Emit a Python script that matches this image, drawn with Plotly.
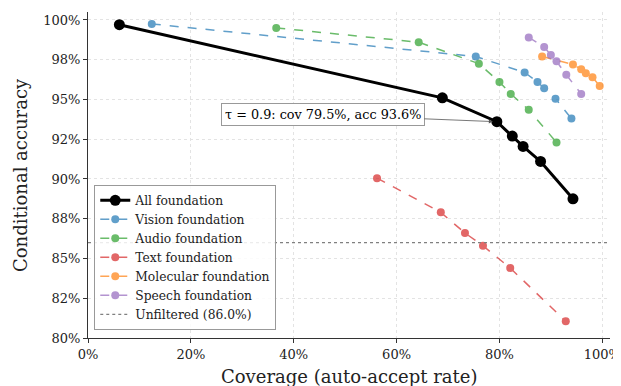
import plotly.graph_objects as go

# ---- data (percent) ----
all_cov = [6.1, 68.9, 79.5, 82.5, 84.6, 88.0, 94.3]
all_acc = [99.7, 95.1, 93.6, 92.7, 92.05, 91.1, 88.75]

vision_cov = [12.4, 75.4, 84.9, 87.4, 88.7, 90.9, 94.0]
vision_acc = [99.75, 97.7, 96.7, 96.1, 95.7, 95.05, 93.8]

audio_cov = [36.6, 64.3, 76.0, 80.0, 82.2, 85.7, 91.1]
audio_acc = [99.5, 98.6, 97.25, 96.1, 95.35, 94.35, 92.3]

text_cov = [56.2, 68.6, 73.3, 76.8, 82.1, 92.9]
text_acc = [90.05, 87.9, 86.6, 85.8, 84.4, 81.05]

molecular_cov = [88.3, 94.3, 95.9, 96.8, 98.1, 99.5]
molecular_acc = [97.7, 97.2, 96.9, 96.65, 96.4, 95.85]

speech_cov = [85.7, 88.7, 90.0, 91.1, 93.0, 95.9]
speech_acc = [98.9, 98.3, 97.8, 97.4, 96.55, 95.35]

unfiltered_acc = 86.0

x_tickvals = [0, 20, 40, 60, 80, 100]
x_ticktext = ["0%", "20%", "40%", "60%", "80%", "100%"]
y_tickvals = [80, 82.5, 85, 87.5, 90, 92.5, 95, 97.5, 100]
y_ticktext = ["80%", "82%", "85%", "88%", "90%", "92%", "95%", "98%", "100%"]

X_RANGE = [0, 101.5]
Y_RANGE = [80, 100.5]

annot_cov, annot_acc = 79.5, 93.6

FONT = "DejaVu Serif"

fig = go.Figure()

fig.add_trace(go.Scatter(
    x=all_cov, y=all_acc, mode="lines+markers", name="All foundation",
    line=dict(color="black", width=3), marker=dict(color="black", size=11),
))

series = [
    ("Vision foundation", vision_cov, vision_acc, "#1f77b4"),
    ("Audio foundation", audio_cov, audio_acc, "#2ca02c"),
    ("Text foundation", text_cov, text_acc, "#d62728"),
    ("Molecular foundation", molecular_cov, molecular_acc, "#ff7f0e"),
    ("Speech foundation", speech_cov, speech_acc, "#9467bd"),
]
for name, xs, ys, c in series:
    fig.add_trace(go.Scatter(
        x=xs, y=ys, mode="lines+markers", name=name, opacity=0.7,
        line=dict(color=c, width=1.5, dash="dash"),
        marker=dict(color=c, size=8),
    ))

fig.add_trace(go.Scatter(
    x=X_RANGE, y=[unfiltered_acc, unfiltered_acc], mode="lines",
    name="Unfiltered (86.0%)",
    line=dict(color="gray", width=1.3, dash="dot"),
))

fig.add_annotation(
    x=annot_cov, y=annot_acc, xref="x", yref="y",
    text="τ = 0.9: cov 79.5%, acc 93.6%",
    showarrow=True, ax=-174, ay=-7, axref="pixel", ayref="pixel",
    arrowhead=2, arrowsize=1, arrowwidth=0.8, arrowcolor="#555555",
    standoff=4,
    font=dict(family=FONT, size=12.8, color="black"),
    bgcolor="white", bordercolor="#999999", borderwidth=1, borderpad=3,
)

# axis titles as annotations for precise placement
fig.add_annotation(
    x=0.5, y=0, xref="paper", yref="paper", showarrow=False,
    text="Coverage (auto-accept rate)", yanchor="middle", yshift=-38,
    font=dict(family=FONT, size=18, color="#222222"),
)
fig.add_annotation(
    x=0, y=0.5, xref="paper", yref="paper", showarrow=False,
    text="Conditional accuracy", textangle=-90, xanchor="center", xshift=-68,
    font=dict(family=FONT, size=18, color="#222222"),
)

axis_common = dict(
    showline=True, linecolor="#333333", linewidth=1.2,
    ticks="outside", ticklen=4, tickcolor="#333333",
    showgrid=True, gridcolor="#e3e3e3", griddash="dot", gridwidth=1,
    zeroline=False, mirror=False, automargin=False,
    tickfont=dict(family=FONT, size=13, color="#222222"),
)

fig.update_xaxes(range=X_RANGE, tickvals=x_tickvals, ticktext=x_ticktext, **axis_common)
fig.update_yaxes(range=Y_RANGE, tickvals=y_tickvals, ticktext=y_ticktext, **axis_common)

# page body has an 8px default margin, so the figure is sized to fit the window
fig.update_layout(
    width=613, height=378,
    margin=dict(l=80, r=11, t=4, b=48),
    paper_bgcolor="white", plot_bgcolor="white",
    font=dict(family=FONT, color="#222222"),
    legend=dict(
        x=0.012, y=0.025, xanchor="left", yanchor="bottom",
        bgcolor="rgba(255,255,255,0.85)", bordercolor="#999999", borderwidth=1,
        font=dict(family=FONT, size=12.3, color="#222222"),
        tracegroupgap=0, itemwidth=30,
    ),
)

fig.write_html("out.html")
